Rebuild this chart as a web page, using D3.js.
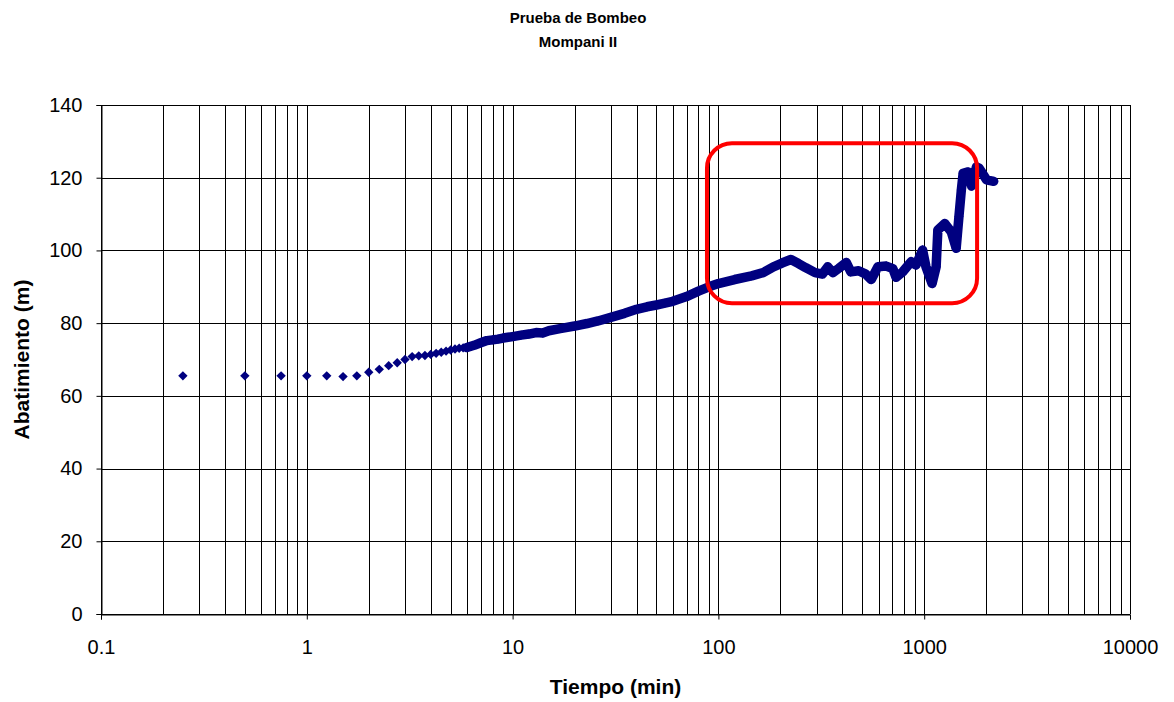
<!DOCTYPE html>
<html>
<head>
<meta charset="utf-8">
<script src="https://cdn.jsdelivr.net/npm/d3@7"></script>
<style>
  html, body { margin: 0; padding: 0; background: #fff; }
  text { font-family: "Liberation Sans", Arial, sans-serif; fill: #000; }
</style>
</head>
<body>
<svg id="chart" width="1174" height="702"></svg>
<script>
// ---- data ----
const titleLines = ["Prueba de Bombeo", "Mompani II"];
const xAxisTitle = "Tiempo (min)";
const yAxisTitle = "Abatimiento (m)";

const timeMin = [
  0.25, 0.5, 0.75, 1, 1.25, 1.5, 1.75, 2, 2.25, 2.5, 2.75, 3, 3.25, 3.5, 3.75, 4,
  4.25, 4.5, 4.75, 5, 5.25, 5.5, 5.75, 6, 6.5, 7, 7.5, 8, 8.5, 9, 9.5, 10,
  11, 12, 13, 14, 15, 17, 20, 23, 26, 30, 35, 40, 45, 50, 55, 60, 70, 80, 90,
  100, 120, 145, 165, 185, 205, 225, 245, 265, 295, 320, 340, 360, 385, 418,
  440, 480, 520, 553, 596, 654, 704, 730, 786, 864, 913, 982, 1020, 1092,
  1143, 1165, 1260, 1354, 1430, 1475, 1515, 1546, 1635, 1700, 1795, 1850,
  2010, 2175
];
const drawdownM = [
  65.5, 65.5, 65.5, 65.5, 65.5, 65.3, 65.5, 66.5, 67.3, 68.3, 69.1, 70.0, 70.8, 71.0, 71.1, 71.4,
  71.7, 72.0, 72.3, 72.6, 72.9, 73.1, 73.2, 73.3, 73.9, 74.6, 75.2, 75.4, 75.6, 75.9, 76.1, 76.3,
  76.7, 77.0, 77.4, 77.3, 77.9, 78.5, 79.2, 79.9, 80.6, 81.6, 82.7, 83.8, 84.5, 85.0, 85.5, 86.0, 87.3, 88.8, 90.0,
  90.9, 92.0, 93.0, 93.9, 95.5, 96.6, 97.5, 96.4, 95.3, 93.9, 93.5, 95.5, 93.9, 95.1, 96.7,
  94.1, 94.4, 93.5, 92.0, 95.5, 95.7, 95.0, 92.6, 94.1, 96.9, 96.0, 100.1, 95.5, 90.9,
  95.5, 105.6, 107.4, 105.1, 100.6, 109.3, 116.6, 121.2, 121.6, 117.7, 123.0, 122.6,
  119.4, 119.0
];

const xTickValues = [0.1, 1, 10, 100, 1000, 10000];
const xTickLabels = ["0.1", "1", "10", "100", "1000", "10000"];
const yTickValues = [0, 20, 40, 60, 80, 100, 120, 140];

// highlighted region (annotation), in data units
const highlightTime = [88, 1807];
const highlightDrawdown = [85.5, 129.5];

// ---- layout ----
const svg = d3.select("#chart");
const plotL = 101, plotR = 1130, plotT = 105, plotB = 614;

const x = d3.scaleLog().domain([0.1, 10000]).range([plotL, plotR]);
const y = d3.scaleLinear().domain([0, 140]).range([plotB, plotT]);

const navy = "#000080";

// grid: vertical at every log minor tick
const gridX = [];
for (let e = -1; e <= 3; e++) {
  for (let k = 1; k <= 9; k++) gridX.push(k * Math.pow(10, e));
}
gridX.push(10000);

const g = svg.append("g");
g.selectAll("line.vgrid").data(gridX).enter().append("line")
  .attr("class", "vgrid")
  .attr("x1", d => Math.round(x(d)) + 0.5).attr("x2", d => Math.round(x(d)) + 0.5)
  .attr("y1", plotT).attr("y2", plotB)
  .attr("stroke", "#000").attr("stroke-width", 1);

g.selectAll("line.hgrid").data(yTickValues).enter().append("line")
  .attr("class", "hgrid")
  .attr("x1", plotL).attr("x2", plotR)
  .attr("y1", d => Math.round(y(d)) + 0.5).attr("y2", d => Math.round(y(d)) + 0.5)
  .attr("stroke", "#000").attr("stroke-width", 1);

// axes
const xAxis = d3.axisBottom(x).tickValues(xTickValues)
  .tickFormat((d, i) => xTickLabels[i]).tickSize(5).tickPadding(20);
const xg = svg.append("g").attr("transform", `translate(0,${plotB + 0.5})`).call(xAxis);
xg.select(".domain").attr("stroke", "#000");
xg.selectAll(".tick line").attr("stroke", "#000");
xg.selectAll("text").style("font-size", "20px").attr("fill", "#000");

const yAxis = d3.axisLeft(y).tickValues(yTickValues).tickSize(5).tickPadding(14);
const yg = svg.append("g").attr("transform", `translate(${plotL + 0.5},0)`).call(yAxis);
yg.select(".domain").attr("stroke", "#000");
yg.selectAll(".tick line").attr("stroke", "#000");
yg.selectAll("text").style("font-size", "20px").attr("fill", "#000");

// data
const pts = timeMin.map((t, i) => ({ t, s: drawdownM[i] }));

const band = pts.filter(d => d.t >= 6);
svg.append("path")
  .datum(band)
  .attr("d", d3.line().x(d => x(d.t)).y(d => y(d.s)))
  .attr("fill", "none")
  .attr("stroke", navy)
  .attr("stroke-width", 9.5)
  .attr("stroke-linejoin", "round")
  .attr("stroke-linecap", "round");

const sym = d3.symbol().type(d3.symbolSquare).size(44);
svg.selectAll("path.pt").data(pts).enter().append("path")
  .attr("class", "pt")
  .attr("d", sym)
  .attr("transform", d => `translate(${x(d.t)},${y(d.s)}) rotate(45)`)
  .attr("fill", navy);

// highlight rectangle
svg.append("rect")
  .attr("x", x(highlightTime[0]))
  .attr("y", y(highlightDrawdown[1]))
  .attr("width", x(highlightTime[1]) - x(highlightTime[0]))
  .attr("height", y(highlightDrawdown[0]) - y(highlightDrawdown[1]))
  .attr("rx", 25).attr("ry", 25)
  .attr("fill", "none")
  .attr("stroke", "#ff0000")
  .attr("stroke-width", 4);

// titles
svg.append("text").attr("x", 578).attr("y", 23)
  .attr("text-anchor", "middle").style("font-size", "15px").style("font-weight", "bold")
  .text(titleLines[0]);
svg.append("text").attr("x", 578).attr("y", 47)
  .attr("text-anchor", "middle").style("font-size", "15px").style("font-weight", "bold")
  .text(titleLines[1]);

svg.append("text").attr("x", (plotL + plotR) / 2).attr("y", 694)
  .attr("text-anchor", "middle").style("font-size", "21px").style("font-weight", "bold")
  .text(xAxisTitle);

svg.append("text")
  .attr("transform", `translate(29,${(plotT + plotB) / 2}) rotate(-90)`)
  .attr("text-anchor", "middle").style("font-size", "21px").style("font-weight", "bold")
  .text(yAxisTitle);
</script>
</body>
</html>
